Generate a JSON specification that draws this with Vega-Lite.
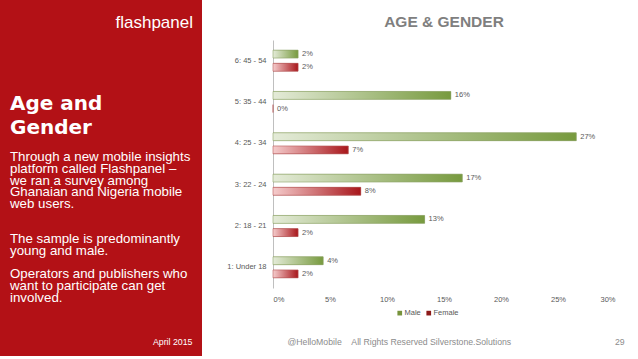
{
  "$schema": "https://vega.github.io/schema/vega-lite/v6.json",
  "background": "white",
  "padding": 0,
  "spacing": 24,
  "config": {"view": {"stroke": null}, "font": "Liberation Sans"},
  "hconcat": [
    {
      "width": 202,
      "height": 356,
      "view": {"fill": "#b31116", "stroke": null},
      "data": {"values": [{"k": 0}]},
      "title": {
        "text": ["Age and", "Gender"],
        "subtitle": ["Through a new mobile insights", "platform called Flashpanel –", "we ran a survey among", "Ghanaian and Nigeria mobile", "web users.", "\u200b", "\u200b", "The sample is predominantly", "young and male.", "\u200b", "Operators and publishers who", "want to participate can get", "involved."],
        "anchor": "start", "frame": "group", "orient": "top", "offset": -304, "dx": 10,
        "color": "white", "font": "DejaVu Sans", "fontSize": 20, "fontWeight": "bold", "lineHeight": 24,
        "subtitleColor": "white", "subtitleFont": "Liberation Sans", "subtitleFontSize": 13.3, "subtitleLineHeight": 11.7, "subtitlePadding": 12
      },
      "mark": {"type": "point", "opacity": 0},
      "encoding": {
        "x": {"field": "k", "type": "quantitative", "axis": {"title": "April 2015", "labels": false, "ticks": false, "domain": false, "grid": false, "titleColor": "white", "titleFont": "Liberation Sans", "titleFontWeight": "normal", "titleFontSize": 8.8, "titleX": 192, "titleY": -12, "titleAlign": "right", "titleBaseline": "alphabetic"}},
        "y": {"field": "k", "type": "quantitative", "axis": {"title": "flashpanel", "labels": false, "ticks": false, "domain": false, "grid": false, "titleColor": "white", "titleFont": "Liberation Sans", "titleFontWeight": "normal", "titleFontSize": 17, "titleAngle": 0, "titleX": 115, "titleY": 27, "titleAlign": "left", "titleBaseline": "alphabetic"}}
      }
    },
    {
      "width": 342,
      "height": 288,
      "data": {"values": [
        {"age": "6: 45 - 54", "gender": "Male", "share": 0.022},
        {"age": "6: 45 - 54", "gender": "Female", "share": 0.022},
        {"age": "5: 35 - 44", "gender": "Male", "share": 0.156},
        {"age": "5: 35 - 44", "gender": "Female", "share": 0.0},
        {"age": "4: 25 - 34", "gender": "Male", "share": 0.266},
        {"age": "4: 25 - 34", "gender": "Female", "share": 0.066},
        {"age": "3: 22 - 24", "gender": "Male", "share": 0.166},
        {"age": "3: 22 - 24", "gender": "Female", "share": 0.077},
        {"age": "2: 18 - 21", "gender": "Male", "share": 0.133},
        {"age": "2: 18 - 21", "gender": "Female", "share": 0.022},
        {"age": "1: Under 18", "gender": "Male", "share": 0.044},
        {"age": "1: Under 18", "gender": "Female", "share": 0.022}
      ]},
      "title": {"text": "AGE & GENDER", "anchor": "middle", "frame": "group", "orient": "top", "offset": -30, "font": "Liberation Sans", "fontSize": 15.5, "fontWeight": "bold", "color": "#7f7f7f"},
      "encoding": {
        "y": {"field": "age", "type": "nominal", "sort": ["6: 45 - 54", "5: 35 - 44", "4: 25 - 34", "3: 22 - 24", "2: 18 - 21", "1: Under 18"],
              "scale": {"range": [40, 288], "paddingInner": 0.49, "paddingOuter": 0.245},
              "axis": {"title": null, "ticks": false, "domainColor": "#bfbfbf", "labelFontSize": 7.5, "labelColor": "#595959", "labelPadding": 7}},
        "yOffset": {"field": "gender", "type": "nominal", "sort": ["Male", "Female"], "scale": {"paddingInner": 0.4, "paddingOuter": 0}},
        "x": {"field": "share", "type": "quantitative", "scale": {"domain": [0, 0.3], "nice": false},
              "axis": {"format": ".0%", "values": [0, 0.05, 0.1, 0.15, 0.2, 0.25, 0.3], "grid": false, "domain": false, "ticks": false, "labelFontSize": 7.5, "labelColor": "#595959", "labelPadding": 7,
                       "title": "@HelloMobile\u00a0\u00a0\u00a0\u00a0All Rights Reserved Silverstone.Solutions\u00a0\u00a0\u00a0\u00a0\u00a0\u00a0\u00a0\u00a0\u00a0\u00a0\u00a0\u00a0\u00a0\u00a0\u00a0\u00a0\u00a0\u00a0\u00a0\u00a0\u00a0\u00a0\u00a0\u00a0\u00a0\u00a0\u00a0\u00a0\u00a0\u00a0\u00a0\u00a0\u00a0\u00a0\u00a0\u00a0\u00a0\u00a0\u00a0\u00a0\u00a0\u00a0\u00a029",
                       "titleX": 14, "titleY": 56, "titleAlign": "left", "titleAnchor": "start", "titleBaseline": "alphabetic", "titleFontSize": 8.7, "titleFontWeight": "normal", "titleColor": "#8c8c8c"}}
      },
      "layer": [
        {
          "mark": {"type": "bar"},
          "encoding": {
            "color": {"field": "gender", "type": "nominal", "scale": {"domain": ["Male", "Female"], "range": ["#77933c", "#8c1a1a"]},
                      "legend": {"orient": "none", "legendX": 396, "legendY": 309, "direction": "horizontal", "title": null, "symbolType": "square", "symbolSize": 22, "symbolStrokeWidth": 0, "labelFontSize": 7.5, "labelColor": "#595959", "columnPadding": 4, "labelOffset": 1}}
          }
        },
        {
          "mark": {"type": "bar", "strokeWidth": 0.6},
          "encoding": {
            "fill": {"condition": {"test": "datum.gender === 'Male'", "value": {"gradient": "linear", "stops": [{"offset": 0, "color": "#e4ebd8"}, {"offset": 1, "color": "#779a3e"}]}},
                     "value": {"gradient": "linear", "stops": [{"offset": 0, "color": "#f5cccc"}, {"offset": 1, "color": "#a8161b"}]}},
            "stroke": {"condition": {"test": "datum.gender === 'Male'", "value": "#8ea56a"}, "value": "#b85a5a"}
          }
        },
        {
          "mark": {"type": "text", "align": "left", "dx": 4, "fontSize": 7.5, "color": "#595959"},
          "encoding": {"text": {"field": "share", "type": "quantitative", "format": ".0%"}}
        }
      ]
    }
  ]
}
